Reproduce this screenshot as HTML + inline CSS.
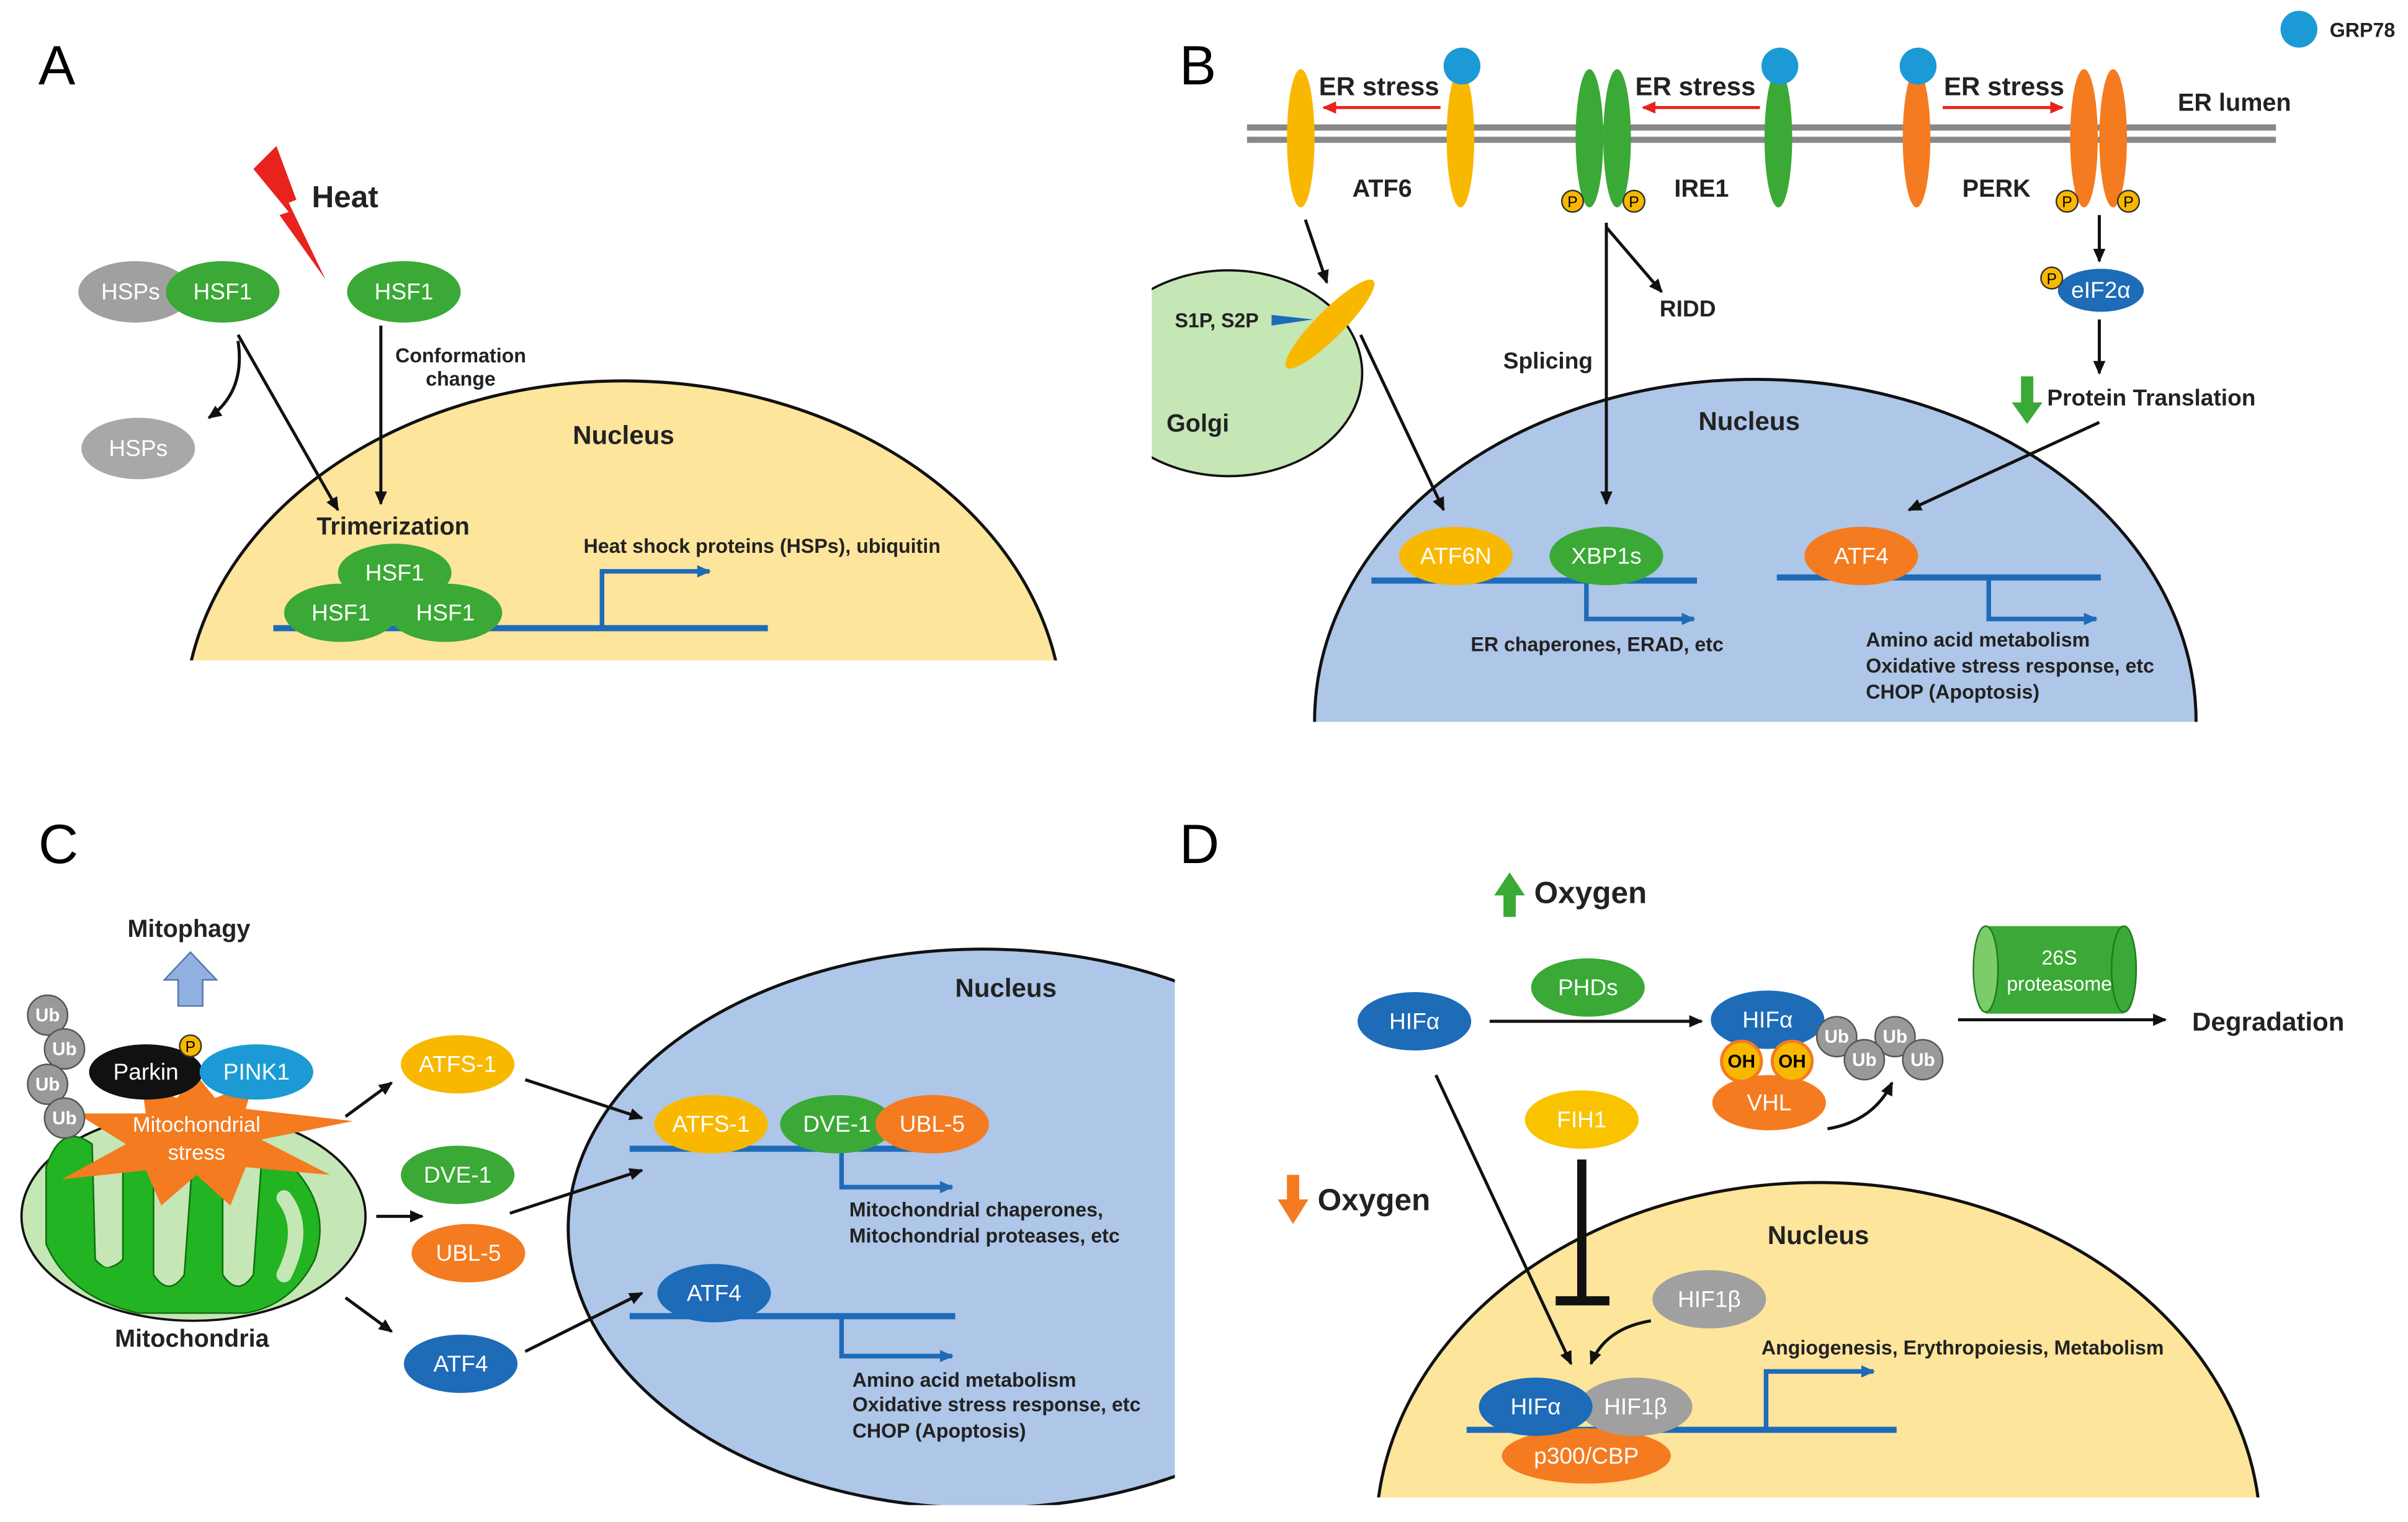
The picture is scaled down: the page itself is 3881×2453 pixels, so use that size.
<!DOCTYPE html>
<html><head><meta charset="utf-8"><style>
html,body{margin:0;padding:0;background:#fff;width:3881px;height:2453px;overflow:hidden;}
svg{display:block;}
text{font-family:"Liberation Sans",Arial,sans-serif;}
.w{fill:#fff;font-size:15px;text-anchor:middle;}
.b{font-weight:bold;fill:#222;}
.s{font-size:13px;font-weight:bold;fill:#222;}
.ln{stroke:#111;stroke-width:2;fill:none;marker-end:url(#ah);}
.dna{stroke:#1e6bb8;stroke-width:4;fill:none;}
.pr{stroke:#1e6bb8;stroke-width:3;fill:none;marker-end:url(#bh);}
</style></head><body>
<svg width="3881" height="2453" viewBox="0 0 1568 991" xmlns="http://www.w3.org/2000/svg">
<defs>
<marker id="ah" markerWidth="10" markerHeight="10" refX="8" refY="5" orient="auto" markerUnits="userSpaceOnUse"><path d="M0,1 L9,5 L0,9 z" fill="#111"/></marker>
<marker id="bh" markerWidth="10" markerHeight="10" refX="8" refY="5" orient="auto" markerUnits="userSpaceOnUse"><path d="M0,1 L9,5 L0,9 z" fill="#1e6bb8"/></marker>
<marker id="rh" markerWidth="10" markerHeight="10" refX="8" refY="5" orient="auto" markerUnits="userSpaceOnUse"><path d="M0,1 L9,5 L0,9 z" fill="#e8231d"/></marker>
<clipPath id="cA"><rect x="0" y="0" width="800" height="430"/></clipPath>
<clipPath id="cB"><rect x="750" y="0" width="800" height="470"/></clipPath>
<clipPath id="cC"><rect x="0" y="500" width="765" height="480"/></clipPath>
<clipPath id="cD"><rect x="800" y="500" width="760" height="475"/></clipPath>
</defs>

<!-- Panel A -->
<text x="25" y="55" font-size="36">A</text>
<ellipse cx="406" cy="470" rx="286" ry="222" fill="#fde59c" stroke="#111" stroke-width="2" clip-path="url(#cA)"/>
<path d="M165,110 L180,95 L193,130 L188,132 L212,182 L182,140 L188,138 Z" fill="#e8231d"/>
<text x="203" y="135" class="b" font-size="20">Heat</text>
<ellipse cx="88" cy="190" rx="37" ry="20" fill="#a0a0a0"/><text x="85" y="195" class="w">HSPs</text>
<ellipse cx="145" cy="190" rx="37" ry="20" fill="#3aa935"/><text x="145" y="195" class="w">HSF1</text>
<ellipse cx="263" cy="190" rx="37" ry="20" fill="#3aa935"/><text x="263" y="195" class="w">HSF1</text>
<ellipse cx="90" cy="292" rx="37" ry="20" fill="#a8a8a8"/><text x="90" y="297" class="w">HSPs</text>
<path class="ln" d="M155,222 Q160,255 136,272"/>
<path class="ln" d="M155,218 L220,332"/>
<path class="ln" d="M248,212 L248,328"/>
<text x="300" y="236" class="s" text-anchor="middle">Conformation</text>
<text x="300" y="251" class="s" text-anchor="middle">change</text>
<text x="406" y="289" class="b" font-size="17" text-anchor="middle">Nucleus</text>
<text x="256" y="348" class="b" font-size="16" text-anchor="middle">Trimerization</text>
<line class="dna" x1="178" y1="409" x2="500" y2="409"/>
<path class="pr" d="M392,409 L392,372 L462,372"/>
<text x="380" y="360" class="s">Heat shock proteins (HSPs), ubiquitin</text>
<ellipse cx="257" cy="373" rx="37" ry="19" fill="#3aa935"/><text x="257" y="378" class="w">HSF1</text>
<ellipse cx="222" cy="399" rx="37" ry="19" fill="#3aa935"/><text x="222" y="404" class="w">HSF1</text>
<ellipse cx="290" cy="399" rx="37" ry="19" fill="#3aa935"/><text x="290" y="404" class="w">HSF1</text>

<!-- Panel B -->
<text x="768" y="55" font-size="36">B</text>
<ellipse cx="800" cy="243" rx="87" ry="67" fill="#c5e6b5" stroke="#111" stroke-width="1.5" clip-path="url(#cB)"/>
<ellipse cx="1143" cy="470" rx="287" ry="223" fill="#aec6e8" stroke="#111" stroke-width="2" clip-path="url(#cB)"/>
<line x1="812" y1="83" x2="1482" y2="83" stroke="#888" stroke-width="4"/>
<line x1="812" y1="91" x2="1482" y2="91" stroke="#888" stroke-width="4"/>
<circle cx="1497" cy="19" r="12" fill="#1b9ad6"/><text x="1517" y="24" class="s">GRP78</text>
<text x="1455" y="72" class="b" font-size="16" text-anchor="middle" fill="#1e3a6e">ER lumen</text>
<ellipse cx="847" cy="90" rx="9" ry="45" fill="#f9b800"/>
<ellipse cx="951" cy="90" rx="9" ry="45" fill="#f9b800"/>
<circle cx="952" cy="43" r="12" fill="#1b9ad6"/>
<text x="898" y="62" class="b" font-size="17" text-anchor="middle">ER stress</text>
<line x1="938" y1="70" x2="862" y2="70" stroke="#e8231d" stroke-width="2" marker-end="url(#rh)"/>
<text x="900" y="128" class="b" font-size="16" text-anchor="middle">ATF6</text>
<ellipse cx="1035" cy="90" rx="9" ry="45" fill="#3aa935"/>
<ellipse cx="1053" cy="90" rx="9" ry="45" fill="#3aa935"/>
<ellipse cx="1158" cy="90" rx="9" ry="45" fill="#3aa935"/>
<circle cx="1159" cy="43" r="12" fill="#1b9ad6"/>
<text x="1104" y="62" class="b" font-size="17" text-anchor="middle">ER stress</text>
<line x1="1146" y1="70" x2="1070" y2="70" stroke="#e8231d" stroke-width="2" marker-end="url(#rh)"/>
<text x="1108" y="128" class="b" font-size="16" text-anchor="middle">IRE1</text>
<circle cx="1024" cy="131" r="7" fill="#f9b800" stroke="#333"/><text x="1024" y="135" font-size="10" text-anchor="middle">P</text>
<circle cx="1064" cy="131" r="7" fill="#f9b800" stroke="#333"/><text x="1064" y="135" font-size="10" text-anchor="middle">P</text>
<ellipse cx="1248" cy="90" rx="9" ry="45" fill="#f47b20"/>
<ellipse cx="1357" cy="90" rx="9" ry="45" fill="#f47b20"/>
<ellipse cx="1376" cy="90" rx="9" ry="45" fill="#f47b20"/>
<circle cx="1249" cy="43" r="12" fill="#1b9ad6"/>
<text x="1305" y="62" class="b" font-size="17" text-anchor="middle">ER stress</text>
<line x1="1265" y1="70" x2="1343" y2="70" stroke="#e8231d" stroke-width="2" marker-end="url(#rh)"/>
<text x="1300" y="128" class="b" font-size="16" text-anchor="middle">PERK</text>
<circle cx="1346" cy="131" r="7" fill="#f9b800" stroke="#333"/><text x="1346" y="135" font-size="10" text-anchor="middle">P</text>
<circle cx="1386" cy="131" r="7" fill="#f9b800" stroke="#333"/><text x="1386" y="135" font-size="10" text-anchor="middle">P</text>
<text x="780" y="281" class="b" font-size="16" text-anchor="middle">Golgi</text>
<text x="765" y="213" class="s">S1P, S2P</text>
<path d="M828,205 L855,208 L828,212 Z" fill="#1e6bb8"/>
<ellipse cx="866" cy="211" rx="9" ry="40" fill="#f9b800" transform="rotate(45 866 211)"/>
<path class="ln" d="M850,143 L864,184"/>
<path class="ln" d="M886,218 L940,332"/>
<path class="ln" d="M1046,145 L1046,328"/>
<path class="ln" d="M1046,148 L1082,190"/>
<text x="1099" y="206" class="b" font-size="15" text-anchor="middle">RIDD</text>
<text x="1008" y="240" class="b" font-size="15" text-anchor="middle">Splicing</text>
<path class="ln" d="M1367,140 L1367,170"/>
<ellipse cx="1368" cy="189" rx="28" ry="14" fill="#1e6bb8"/><text x="1368" y="194" class="w" font-size="13">eIF2α</text>
<circle cx="1336" cy="181" r="7" fill="#f9b800" stroke="#333"/><text x="1336" y="185" font-size="10" text-anchor="middle">P</text>
<path class="ln" d="M1367,208 L1367,243"/>
<path d="M1316,245 L1324,245 L1324,262 L1330,262 L1320,276 L1310,262 L1316,262 Z" fill="#3aa935"/>
<text x="1333" y="264" class="b" font-size="15">Protein Translation</text>
<path class="ln" d="M1367,275 L1243,332"/>
<text x="1139" y="280" class="b" font-size="17" text-anchor="middle">Nucleus</text>
<line class="dna" x1="893" y1="378" x2="1105" y2="378"/>
<path class="pr" d="M1033,378 L1033,403 L1103,403"/>
<ellipse cx="948" cy="362" rx="37" ry="19" fill="#f9b800"/><text x="948" y="367" class="w">ATF6N</text>
<ellipse cx="1046" cy="362" rx="37" ry="19" fill="#3aa935"/><text x="1046" y="367" class="w">XBP1s</text>
<text x="1040" y="424" class="s" text-anchor="middle">ER chaperones, ERAD, etc</text>
<line class="dna" x1="1157" y1="376" x2="1368" y2="376"/>
<path class="pr" d="M1295,376 L1295,403 L1365,403"/>
<ellipse cx="1212" cy="362" rx="37" ry="19" fill="#f47b20"/><text x="1212" y="367" class="w">ATF4</text>
<text x="1215" y="421" class="s">Amino acid metabolism</text>
<text x="1215" y="438" class="s">Oxidative stress response, etc</text>
<text x="1215" y="455" class="s">CHOP (Apoptosis)</text>

<!-- Panel C -->
<text x="25" y="562" font-size="36">C</text>
<ellipse cx="640" cy="800" rx="270" ry="182" fill="#aec6e8" stroke="#111" stroke-width="2" clip-path="url(#cC)"/>
<text x="123" y="610" class="b" font-size="16" text-anchor="middle">Mitophagy</text>
<path d="M116,655 L132,655 L132,638 L141,638 L124,620 L107,638 L116,638 Z" fill="#8fb0e0" stroke="#5577aa"/>
<ellipse cx="126" cy="792" rx="112" ry="68" fill="#c5e6b5" stroke="#111" stroke-width="1.5"/>
<path d="M30,760 Q40,730 60,745 L62,820 Q70,830 80,820 L80,755 Q90,740 100,755 L100,830 Q110,845 120,830 L125,760 Q135,745 145,760 L145,830 Q155,845 165,830 L170,760 Q180,745 195,765 Q215,790 205,820 Q190,850 160,855 L90,855 Q45,845 30,810 Z" fill="#22b422" stroke="#0d6e0d"/>
<path d="M70,760 L70,820 M110,765 L110,825 M155,770 L155,825 M185,780 Q200,800 185,830" stroke="#c5e6b5" stroke-width="10" fill="none" stroke-linecap="round"/>
<path d="M128,700 L140,715 L165,705 L160,722 L230,730 L170,742 L215,765 L160,760 L150,785 L128,765 L105,785 L95,762 L40,768 L82,745 L50,725 L95,725 L92,705 L115,715 Z" fill="#f47b20"/>
<text x="128" y="737" fill="#fff" font-size="14" text-anchor="middle">Mitochondrial</text>
<text x="128" y="755" fill="#fff" font-size="14" text-anchor="middle">stress</text>
<text x="125" y="877" class="b" font-size="16" text-anchor="middle">Mitochondria</text>
<g fill="#999" stroke="#555"><circle cx="31" cy="661" r="13"/><circle cx="42" cy="683" r="13"/><circle cx="31" cy="706" r="13"/><circle cx="42" cy="728" r="13"/></g>
<g font-size="12" font-weight="bold" text-anchor="middle" fill="#fff"><text x="31" y="665">Ub</text><text x="42" y="687">Ub</text><text x="31" y="710">Ub</text><text x="42" y="732">Ub</text></g>
<ellipse cx="95" cy="698" rx="37" ry="18" fill="#111"/><text x="95" y="703" class="w">Parkin</text>
<ellipse cx="167" cy="698" rx="37" ry="18" fill="#1b9ad6"/><text x="167" y="703" class="w">PINK1</text>
<circle cx="124" cy="681" r="7" fill="#f9b800" stroke="#333"/><text x="124" y="685" font-size="10" text-anchor="middle">P</text>
<path class="ln" d="M225,727 L255,705"/>
<path class="ln" d="M245,792 L275,792"/>
<path class="ln" d="M225,845 L255,867"/>
<ellipse cx="298" cy="693" rx="37" ry="19" fill="#f9b800"/><text x="298" y="698" class="w">ATFS-1</text>
<ellipse cx="298" cy="765" rx="37" ry="19" fill="#3aa935"/><text x="298" y="770" class="w">DVE-1</text>
<ellipse cx="305" cy="816" rx="37" ry="19" fill="#f47b20"/><text x="305" y="821" class="w">UBL-5</text>
<ellipse cx="300" cy="888" rx="37" ry="19" fill="#1e6bb8"/><text x="300" y="893" class="w">ATF4</text>
<path class="ln" d="M342,703 L418,728"/>
<path class="ln" d="M332,790 L418,762"/>
<path class="ln" d="M342,880 L418,842"/>
<text x="655" y="649" class="b" font-size="17" text-anchor="middle">Nucleus</text>
<line class="dna" x1="410" y1="748" x2="620" y2="748"/>
<path class="pr" d="M548,748 L548,773 L620,773"/>
<ellipse cx="463" cy="732" rx="37" ry="19" fill="#f9b800"/><text x="463" y="737" class="w">ATFS-1</text>
<ellipse cx="545" cy="732" rx="37" ry="19" fill="#3aa935"/><text x="545" y="737" class="w">DVE-1</text>
<ellipse cx="607" cy="732" rx="37" ry="19" fill="#f47b20"/><text x="607" y="737" class="w">UBL-5</text>
<text x="553" y="792" class="s">Mitochondrial chaperones,</text>
<text x="553" y="809" class="s">Mitochondrial proteases, etc</text>
<line class="dna" x1="410" y1="857" x2="622" y2="857"/>
<path class="pr" d="M548,857 L548,883 L620,883"/>
<ellipse cx="465" cy="842" rx="37" ry="19" fill="#1e6bb8"/><text x="465" y="847" class="w">ATF4</text>
<text x="555" y="903" class="s">Amino acid metabolism</text>
<text x="555" y="919" class="s">Oxidative stress response, etc</text>
<text x="555" y="936" class="s">CHOP (Apoptosis)</text>

<!-- Panel D -->
<text x="768" y="562" font-size="36">D</text>
<ellipse cx="1184" cy="1000" rx="288" ry="230" fill="#fde59c" stroke="#111" stroke-width="2" clip-path="url(#cD)"/>
<path d="M979,597 L987,597 L987,583 L993,583 L983,568 L973,583 L979,583 Z" fill="#3aa935"/>
<text x="999" y="588" class="b" font-size="20">Oxygen</text>
<ellipse cx="921" cy="665" rx="37" ry="19" fill="#1e6bb8"/><text x="921" y="670" class="w">HIFα</text>
<path class="ln" d="M970,665 L1108,665"/>
<ellipse cx="1034" cy="643" rx="37" ry="19" fill="#3aa935"/><text x="1034" y="648" class="w">PHDs</text>
<ellipse cx="1152" cy="718" rx="37" ry="18" fill="#f47b20"/><text x="1152" y="723" class="w">VHL</text>
<ellipse cx="1151" cy="664" rx="37" ry="19" fill="#1e6bb8"/><text x="1151" y="669" class="w">HIFα</text>
<circle cx="1134" cy="691" r="13" fill="#f9b800" stroke="#f47b20" stroke-width="2"/><text x="1134" y="695" font-size="12" font-weight="bold" text-anchor="middle">OH</text>
<circle cx="1167" cy="691" r="13" fill="#f9b800" stroke="#f47b20" stroke-width="2"/><text x="1167" y="695" font-size="12" font-weight="bold" text-anchor="middle">OH</text>
<g fill="#999" stroke="#555"><circle cx="1196" cy="675" r="13"/><circle cx="1234" cy="675" r="13"/><circle cx="1214" cy="690" r="13"/><circle cx="1252" cy="690" r="13"/></g>
<g font-size="12" font-weight="bold" text-anchor="middle" fill="#fff"><text x="1196" y="679">Ub</text><text x="1234" y="679">Ub</text><text x="1214" y="694">Ub</text><text x="1252" y="694">Ub</text></g>
<path class="ln" d="M1190,735 Q1220,730 1232,705"/>
<path class="ln" d="M1275,664 L1410,664"/>
<rect x="1293" y="603" width="90" height="57" fill="#3aa935"/>
<ellipse cx="1383" cy="631" rx="8" ry="28" fill="#3aa935" stroke="#1e7a1e"/>
<ellipse cx="1293" cy="631" rx="8" ry="28" fill="#7ccc6a" stroke="#1e7a1e"/>
<text x="1341" y="628" fill="#fff" font-size="13" text-anchor="middle">26S</text>
<text x="1341" y="645" fill="#fff" font-size="13" text-anchor="middle">proteasome</text>
<text x="1477" y="671" class="b" font-size="17" text-anchor="middle">Degradation</text>
<ellipse cx="1030" cy="729" rx="37" ry="19" fill="#f9c300"/><text x="1030" y="734" class="w">FIH1</text>
<line x1="1030" y1="755" x2="1030" y2="847" stroke="#111" stroke-width="6"/>
<line x1="1013" y1="847" x2="1048" y2="847" stroke="#111" stroke-width="6"/>
<path d="M838,765 L846,765 L846,781 L852,781 L842,797 L832,781 L838,781 Z" fill="#f47b20"/>
<text x="858" y="788" class="b" font-size="20">Oxygen</text>
<path class="ln" d="M935,700 L1023,888"/>
<text x="1184" y="810" class="b" font-size="17" text-anchor="middle">Nucleus</text>
<ellipse cx="1113" cy="846" rx="37" ry="19" fill="#a0a0a0"/><text x="1113" y="851" class="w">HIF1β</text>
<path class="ln" d="M1075,860 Q1045,865 1036,888"/>
<line class="dna" x1="955" y1="931" x2="1235" y2="931"/>
<path class="pr" d="M1150,931 L1150,893 L1220,893"/>
<text x="1278" y="882" class="s" text-anchor="middle">Angiogenesis, Erythropoiesis, Metabolism</text>
<ellipse cx="1033" cy="948" rx="55" ry="18" fill="#f47b20"/><text x="1033" y="953" class="w">p300/CBP</text>
<ellipse cx="1065" cy="916" rx="37" ry="19" fill="#a0a0a0"/><text x="1065" y="921" class="w">HIF1β</text>
<ellipse cx="1000" cy="916" rx="37" ry="19" fill="#1e6bb8"/><text x="1000" y="921" class="w">HIFα</text>
</svg>
</body></html>
